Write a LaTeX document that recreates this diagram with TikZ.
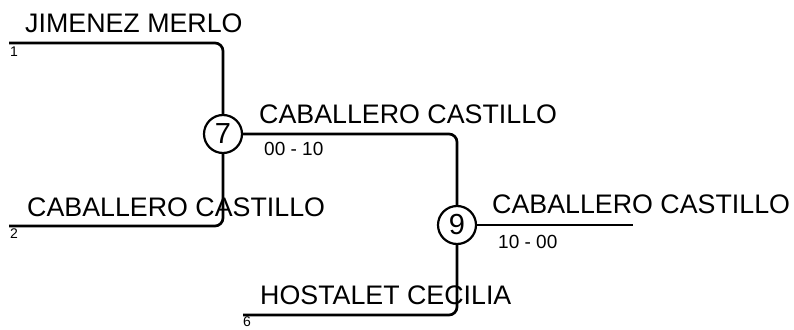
\documentclass[tikz,border=0pt]{standalone}
\usepackage{fontspec}
\setmainfont{Liberation Sans}
\usepackage{tikz}

\begin{document}
\begin{tikzpicture}[x=1pt,y=-1pt,
    wire/.style={line width=2.7pt,rounded corners=8pt},
    game/.style={circle,draw,line width=2.2pt,minimum size=38pt,inner sep=0pt,fill=white,font=\fontsize{29}{29}\selectfont},
    player/.style={anchor=base west,inner sep=0pt,font=\fontsize{26.8}{26.8}\selectfont},
    score/.style={anchor=base west,inner sep=0pt,font=\fontsize{19}{19}\selectfont},
    seed/.style={anchor=north west,inner sep=0pt,font=\fontsize{14}{14}\selectfont}]
        \useasboundingbox (0,0) rectangle (794,329);
        % matches
        \node[game] (g7) at (223,134) {7};
        \node[game] (g9) at (457,225) {9};
        % free ends
        \coordinate (e1) at (9,43);
        \coordinate (e2) at (9,226);
        \coordinate (e6) at (243,315);
        \coordinate (ew) at (633,225);
        % lines
        \draw[wire] (e1) -| (g7);
        \draw[wire] (e2) -| (g7);
        \draw[wire] (g7) -| (g9);
        \draw[wire] (e6) -| (g9);
        \draw[wire] (g9) -- (ew);
        % names
        \node[player] (n1) at (25,33) {JIMENEZ MERLO};
        \node[player] (n2) at (27,216) {CABALLERO CASTILLO};
        \node[player] (n7) at (259,123) {CABALLERO CASTILLO};
        \node[player] (n9) at (492,213) {CABALLERO CASTILLO};
        \node[player] (n6) at (260,304) {HOSTALET CECILIA};
        % scores
        \node[score] (s7) at (264,155) {00 - 10};
        \node[score] (s9) at (498,248) {10 - 00};
        % seeds
        \node[seed] (d1) at (10,47) {1};
        \node[seed] (d2) at (10,229) {2};
        \node[seed] (d6) at (243,317) {6};
    \end{tikzpicture}
\end{document}
